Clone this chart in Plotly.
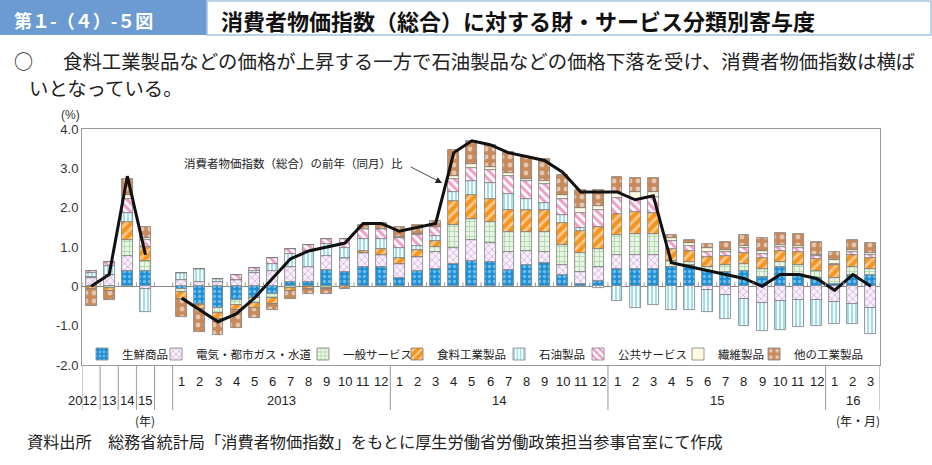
import plotly.graph_objects as go

# ---------------- data ----------------
annual_labels = ["2012", "13", "14", "15"]
month_labels = ["1", "2", "3", "4", "5", "6", "7", "8", "9", "10", "11", "12",
                "1", "2", "3", "4", "5", "6", "7", "8", "9", "10", "11", "12",
                "1", "2", "3", "4", "5", "6", "7", "8", "9", "10", "11", "12",
                "1", "2", "3"]
year_labels = ["2013", "14", "15", "16"]
year_lengths = [12, 12, 12, 3]

# contributions (% points): 4 annual values, then 2013/1 ... 2016/3
fresh_food = [-0.02, 0.00, 0.40, 0.40,
              -0.08, -0.44, -0.55, -0.36, -0.30, -0.19, 0.10, 0.12, 0.42, 0.36, 0.48, 0.48,
              0.20, 0.40, 0.45, 0.56, 0.64, 0.62, 0.41, 0.55, 0.59, 0.28, 0.07, 0.14,
              0.43, 0.43, 0.43, 0.49, 0.53, 0.40, 0.36, 0.39, 0.24, 0.49, 0.32, 0.21,
              0.07, 0.30, 0.30]
utilities = [0.20, 0.30, 0.38, -0.06,
             0.15, 0.12, 0.10, 0.15, 0.33, 0.38, 0.38, 0.37, 0.34, 0.35, 0.38, 0.32,
             0.38, 0.35, 0.42, 0.42, 0.54, 0.47, 0.47, 0.36, 0.28, 0.25, 0.30, 0.34,
             0.36, 0.36, 0.37, 0.00, 0.00, -0.10, -0.23, -0.31, -0.42, -0.38, -0.36, -0.36,
             -0.40, -0.44, -0.55]
services = [0.05, -0.05, 0.40, 0.25,
            -0.06, -0.03, -0.12, -0.11, -0.12, -0.11, -0.03, -0.02, -0.03, 0.00, 0.00, 0.00,
            0.00, 0.00, 0.12, 0.59, 0.53, 0.55, 0.51, 0.47, 0.51, 0.51, 0.47, 0.48,
            0.51, 0.55, 0.53, 0.15, 0.08, 0.10, 0.17, 0.19, 0.21, 0.14, 0.23, 0.19,
            0.14, 0.19, 0.15]
food_products = [-0.06, -0.08, 0.45, 0.34,
                 -0.18, -0.10, -0.15, -0.14, -0.13, -0.14, -0.10, -0.06, -0.05, 0.00, 0.05, 0.15,
                 0.15, 0.17, 0.17, 0.59, 0.61, 0.57, 0.55, 0.57, 0.57, 0.58, 0.57, 0.55,
                 0.55, 0.55, 0.53, 0.32, 0.28, 0.24, 0.24, 0.28, 0.27, 0.28, 0.32, 0.30,
                 0.32, 0.31, 0.27]
petroleum = [0.08, 0.22, 0.23, -0.60,
             0.20, 0.32, 0.08, 0.00, 0.05, 0.20, 0.34, 0.42, 0.31, 0.26, 0.30, 0.25,
             0.25, 0.11, 0.11, 0.25, 0.36, 0.41, 0.42, 0.28, 0.18, 0.20, 0.08, -0.04,
             -0.38, -0.55, -0.47, -0.60, -0.60, -0.55, -0.61, -0.69, -0.72, -0.74, -0.67, -0.65,
             -0.55, -0.53, -0.65]
public_services = [0.05, 0.10, 0.36, 0.20,
                   0.00, 0.00, 0.00, 0.13, 0.08, 0.13, 0.14, 0.13, 0.13, 0.24, 0.25, 0.25,
                   0.24, 0.27, 0.23, 0.32, 0.34, 0.34, 0.44, 0.44, 0.48, 0.41, 0.38, 0.42,
                   0.40, 0.34, 0.40, 0.20, 0.14, 0.14, 0.10, 0.12, 0.11, 0.10, 0.10, 0.07,
                   0.05, 0.08, 0.08]
textiles = [0.00, 0.00, 0.10, 0.04,
            0.00, 0.00, 0.00, 0.00, 0.00, 0.00, 0.00, 0.00, 0.00, 0.00, 0.00, 0.02,
            0.03, 0.02, 0.02, 0.08, 0.08, 0.08, 0.07, 0.07, 0.08, 0.10, 0.13, 0.10,
            0.14, 0.17, 0.14, 0.08, 0.07, 0.10, 0.05, 0.04, 0.08, 0.03, 0.05, 0.03,
            0.08, 0.04, 0.05]
other_products = [-0.42, -0.23, 0.42, 0.28,
                  -0.45, -0.58, -0.41, -0.45, -0.25, -0.15, -0.18, -0.12, -0.11, -0.06, 0.10, 0.13,
                  0.25, 0.25, 0.13, 0.65, 0.60, 0.56, 0.55, 0.56, 0.56, 0.51, 0.44, 0.43,
                  0.39, 0.36, 0.36, 0.06, 0.07, 0.10, 0.21, 0.29, 0.32, 0.32, 0.31, 0.32,
                  0.21, 0.25, 0.25]

cpi_annual = [0.0, 0.3, 2.8, 0.8]
cpi_monthly = [-0.3, -0.6, -0.9, -0.7, -0.3, 0.2, 0.7, 0.9, 1.0, 1.1, 1.6, 1.6,
               1.4, 1.5, 1.6, 3.4, 3.7, 3.6, 3.4, 3.3, 3.2, 2.9, 2.4, 2.4,
               2.4, 2.2, 2.3, 0.6, 0.5, 0.4, 0.3, 0.2, 0.0, 0.3, 0.3, 0.2,
               -0.1, 0.3, 0.0]

series_names = ["生鮮商品", "電気・都市ガス・水道", "一般サービス", "食料工業製品",
                "石油製品", "公共サービス", "繊維製品", "他の工業製品"]
series_values = [fresh_food, utilities, services, food_products,
                 petroleum, public_services, textiles, other_products]

# ---------------- geometry helpers ----------------
W, H = 932, 465
L, R, T, B = 82, 52, 129, 100
PW, PH = W - L - R, H - T - B


def pxx(px):
    return (px - L) / PW


def pxy(py):
    return 1 - (py - T) / PH


n_ann = len(annual_labels)
gap = 1
ann_x = list(range(n_ann))
mon_x = [n_ann + gap + i for i in range(len(month_labels))]
bar_x = ann_x + mon_x
n_slots = n_ann + gap + len(month_labels)

styles = [
    dict(bg="#1c8fd6", fg="#bfeeff", shape=".", size=5, solidity=0.35),
    dict(bg="#f8f0fb", fg="#b46ccc", shape="x", size=5, solidity=0.3),
    dict(bg="#e9f5e4", fg="#6cb866", shape="+", size=5, solidity=0.3),
    dict(bg="#f7941d", fg="#ffffff", shape="/", size=7, solidity=0.4),
    dict(bg="#ffffff", fg="#3ec0dc", shape="|", size=4, solidity=0.5),
    dict(bg="#ffffff", fg="#e3398f", shape="\\", size=6, solidity=0.5),
    dict(bg="#fffde6", fg="#e4e4a8", shape="+", size=4, solidity=0.2),
    dict(bg="#c98a5b", fg="#ffffff", shape=".", size=8, solidity=0.3),
]

fig = go.Figure()
legend_px = [101, 175, 322, 416, 518, 597, 697, 773]
for i, (name, vals, st) in enumerate(zip(series_names, series_values, styles)):
    lg = "legend" if i == 0 else f"legend{i+1}"
    fig.add_trace(go.Bar(
        x=bar_x, y=vals, name=name, width=0.6, legend=lg,
        marker=dict(color=st["bg"],
                    line=dict(color="#7d7d7d", width=0.8),
                    pattern=dict(shape=st["shape"], fgcolor=st["fg"], bgcolor=st["bg"],
                                 size=st["size"], solidity=st["solidity"], fillmode="overlay")),
        hoverinfo="skip",
    ))

line_x = ann_x + [n_ann] + mon_x
line_y = cpi_annual + [None] + cpi_monthly
fig.add_trace(go.Scatter(x=line_x, y=line_y, mode="lines", connectgaps=False,
                         line=dict(color="#111111", width=3), showlegend=False,
                         hoverinfo="skip"))

JP = "Noto Sans CJK JP"
NUM = "Liberation Sans Narrow, Liberation Sans, Arial"

layout_legends = {}
for i, px in enumerate(legend_px):
    key = "legend" if i == 0 else f"legend{i+1}"
    layout_legends[key] = dict(x=pxx(px - 19), y=pxy(354),
                               xanchor="left", yanchor="middle", bgcolor="rgba(0,0,0,0)",
                               font=dict(family=JP, size=11.5, color="#222"),
                               itemwidth=30, borderwidth=0)

fig.update_layout(
    width=W, height=H, margin=dict(l=L, r=R, t=T, b=B, autoexpand=False),
    paper_bgcolor="white", plot_bgcolor="white",
    barmode="relative", bargap=0,
    xaxis=dict(range=[-0.5, n_slots - 0.5], showticklabels=False, ticks="",
               showgrid=False, zeroline=False, showline=True, linecolor="#9a9a9a",
               linewidth=1, mirror=True),
    yaxis=dict(range=[-2, 4], tickvals=[-2, -1, 0, 1, 2, 3, 4],
               ticktext=["-2.0", "-1.0", "0", "1.0", "2.0", "3.0", "4.0"],
               showgrid=False, zeroline=True, zerolinecolor="#8a8a8a", zerolinewidth=1,
               showline=True, linecolor="#9a9a9a", linewidth=1, mirror=True,
               ticks="", tickfont=dict(family=NUM, size=13, color="#333")),
    **layout_legends,
)

shapes = []
# small ticks on the zero line at slot boundaries
for k in range(n_slots + 1):
    shapes.append(dict(type="line", xref="x", yref="y", x0=k - 0.5, x1=k - 0.5, y0=0, y1=0.1,
                       line=dict(color="#9a9a9a", width=1)))
# separators of the category table under the plot
bounds = list(range(n_ann + gap + 1))
acc = n_ann + gap
for ln in year_lengths:
    acc += ln
    bounds.append(acc)
for k in bounds:
    shapes.append(dict(type="line", xref="x", yref="paper", x0=k - 0.5, x1=k - 0.5,
                       y0=0, y1=pxy(410), line=dict(color="#9a9a9a", width=1)))

# title bar
shapes.append(dict(type="rect", xref="paper", yref="paper", x0=pxx(0), x1=pxx(207),
                   y0=pxy(0), y1=pxy(35), fillcolor="#6b9bd0", line=dict(width=0)))
shapes.append(dict(type="rect", xref="paper", yref="paper", x0=pxx(207), x1=pxx(931),
                   y0=pxy(1), y1=pxy(35), fillcolor="white",
                   line=dict(color="#a9c2e3", width=1.5)))

annotations = []
annotations.append(dict(text="第１-（４）-５図", xref="paper", yref="paper", x=pxx(12), y=pxy(20),
                        xanchor="left", yanchor="middle", showarrow=False,
                        font=dict(family=JP, size=18, color="white", weight="bold")))
annotations.append(dict(text="消費者物価指数（総合）に対する財・サービス分類別寄与度",
                        xref="paper", yref="paper", x=pxx(219), y=pxy(20),
                        xanchor="left", yanchor="middle", showarrow=False,
                        font=dict(family=JP, size=22, color="#111", weight="bold")))
annotations.append(dict(text="○", xref="paper", yref="paper", x=pxx(12), y=pxy(61),
                        xanchor="left", yanchor="middle", showarrow=False,
                        font=dict(family=JP, size=19, color="#222")))
annotations.append(dict(text="食料工業製品などの価格が上昇する一方で石油製品などの価格下落を受け、消費者物価指数は横ば",
                        xref="paper", yref="paper", x=pxx(61), y=pxy(61),
                        xanchor="left", yanchor="middle", showarrow=False,
                        font=dict(family=JP, size=19.4, color="#222")))
annotations.append(dict(text="いとなっている。", xref="paper", yref="paper", x=pxx(27), y=pxy(87),
                        xanchor="left", yanchor="middle", showarrow=False,
                        font=dict(family=JP, size=19.4, color="#222")))
annotations.append(dict(text="(%)", xref="paper", yref="paper", x=pxx(82), y=pxy(115),
                        xanchor="right", yanchor="middle", showarrow=False,
                        font=dict(family=NUM, size=12, color="#333")))
annotations.append(dict(text="資料出所　総務省統計局「消費者物価指数」をもとに厚生労働省労働政策担当参事官室にて作成",
                        xref="paper", yref="paper", x=pxx(25), y=pxy(441),
                        xanchor="left", yanchor="middle", showarrow=False,
                        font=dict(family=JP, size=16.2, color="#222")))
# series annotation with arrow
annotations.append(dict(text="消費者物価指数（総合）の前年（同月）比", xref="paper", yref="paper",
                        x=pxx(405), y=pxy(163), xanchor="right", yanchor="middle",
                        showarrow=False, font=dict(family=JP, size=11.5, color="#222")))
annotations.append(dict(text="", xref="paper", yref="paper", x=pxx(442), y=pxy(183),
                        ax=-33, ay=-17, showarrow=True, arrowhead=2, arrowsize=1.6,
                        arrowwidth=0.8, arrowcolor="#222"))

# x labels
for xi, lab in zip(mon_x, month_labels):
    annotations.append(dict(text=lab, xref="x", yref="paper", x=xi, y=pxy(381),
                            xanchor="center", yanchor="middle", showarrow=False,
                            font=dict(family=NUM, size=13, color="#222")))
for xi, lab in zip(ann_x, annual_labels):
    annotations.append(dict(text=lab, xref="x", yref="paper",
                            x=xi + 0.45 if lab == "2012" else xi, y=pxy(400),
                            xanchor="right" if lab == "2012" else "center",
                            yanchor="middle", showarrow=False,
                            font=dict(family=NUM, size=13, color="#222")))
start = n_ann + gap
for lab, ln in zip(year_labels, year_lengths):
    annotations.append(dict(text=lab, xref="x", yref="paper", x=start + (ln - 1) / 2,
                            y=pxy(400), xanchor="center", yanchor="middle", showarrow=False,
                            font=dict(family=NUM, size=13, color="#222")))
    start += ln
annotations.append(dict(text="(年)", xref="x", yref="paper", x=ann_x[-1], y=pxy(420),
                        xanchor="center", yanchor="middle", showarrow=False,
                        font=dict(family=JP, size=12, color="#222")))
annotations.append(dict(text="(年・月)", xref="x", yref="paper", x=mon_x[-2] + 0.3, y=pxy(420),
                        xanchor="center", yanchor="middle", showarrow=False,
                        font=dict(family=JP, size=12, color="#222")))

fig.update_layout(shapes=shapes, annotations=annotations)
fig.write_html("out.html")
